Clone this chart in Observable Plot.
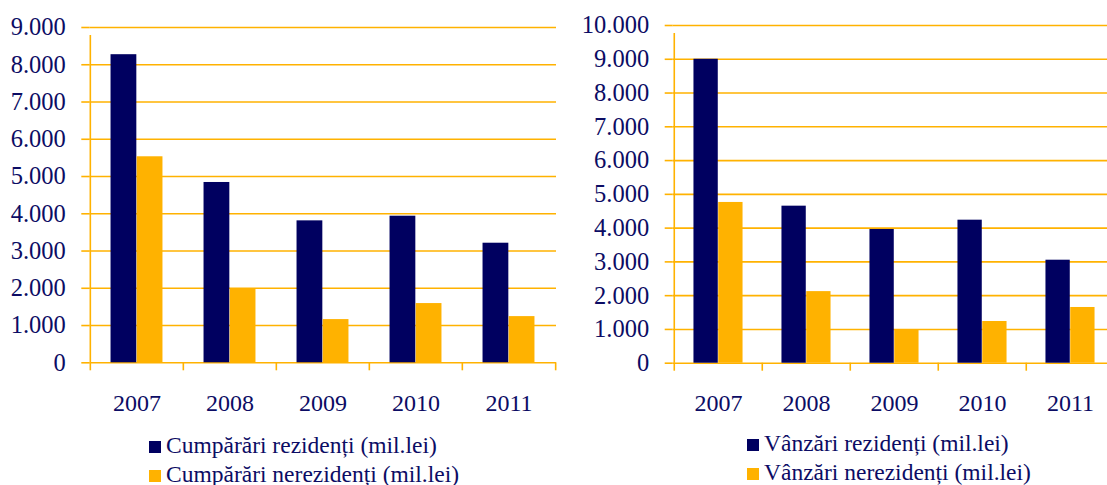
<!DOCTYPE html>
<html><head><meta charset="utf-8">
<script src="https://cdn.jsdelivr.net/npm/d3@7"></script>
<script src="https://cdn.jsdelivr.net/npm/@observablehq/plot@0.6"></script>
<style>
body{margin:0;background:#fff;}
#wrap{position:relative;width:1107px;height:485px;overflow:hidden;font-family:"Liberation Serif",serif;color:#0c0c64;}
.chart{position:absolute;top:0;}
.legend{position:absolute;font-size:23.5px;}
.row{height:29px;line-height:29px;white-space:nowrap;}
.sw{display:inline-block;width:12px;height:12px;margin-right:5px;}
</style></head><body><div id="wrap"></div>
<script>
const years = ["2007", "2008", "2009", "2010", "2011"];
const cumparariRezidenti = [8270, 4840, 3810, 3935, 3210];
const cumparariNerezidenti = [5530, 1990, 1160, 1590, 1240];
const vanzariRezidenti = [9000, 4650, 3960, 4235, 3050];
const vanzariNerezidenti = [4760, 2120, 990, 1235, 1650];
const yTicksLeft = [0, 1000, 2000, 3000, 4000, 5000, 6000, 7000, 8000, 9000];
const yTicksRight = [0, 1000, 2000, 3000, 4000, 5000, 6000, 7000, 8000, 9000, 10000];
const legendLeft = ["Cumpărări rezidenți (mil.lei)", "Cumpărări nerezidenți (mil.lei)"];
const legendRight = ["Vânzări rezidenți (mil.lei)", "Vânzări nerezidenți (mil.lei)"];

const NAVY = "#000060", ORANGE = "#FFB200", TEXT = "#0c0c64";
const fmt = d3.formatLocale({decimal: ",", thousands: ".", grouping: [3], currency: ["", ""]}).format(",d");

function chart({left, width, height, mL, mR, mT, mB, yMax, ticks, s1, s2}) {
  const step = (width - mL - mR) / years.length;
  const pad = step * 0.22, bar = (step - 2 * pad) / 2;
  const rows = years.map((y, i) => ({year: y, a: s1[i], b: s2[i]}));
  const p = Plot.plot({
    width, height, marginLeft: mL, marginRight: mR, marginTop: mT, marginBottom: mB,
    style: {fontFamily: '"Liberation Serif", serif', fontSize: "24px", color: TEXT, background: "transparent", overflow: "visible"},
    x: {type: "band", domain: years, padding: 0, label: null},
    y: {domain: [0, yMax], label: null},
    marks: [
      Plot.gridY({ticks, stroke: ORANGE, strokeOpacity: 1, strokeWidth: 1.6}),
      Plot.axisY({ticks, label: null, tickSize: 8, tickPadding: 16, tickFormat: fmt, stroke: ORANGE, strokeWidth: 1.6, fill: TEXT, fontSize: 24.5}),
      Plot.ruleX([years[0]], {x: d => d, dx: -step / 2, y1: 0, y2: yMax, insetBottom: -8, stroke: ORANGE, strokeWidth: 1.6}),
      Plot.axisX({label: null, tickSize: 8, tickFormat: () => "", dx: -step / 2, stroke: ORANGE, strokeWidth: 1.6}),
      Plot.axisX({label: null, ticks: [years[years.length - 1]], tickSize: 8, tickFormat: () => "", dx: step / 2, stroke: ORANGE, strokeWidth: 1.6}),
      Plot.axisX({label: null, tickSize: 0, tickPadding: 31, fill: TEXT, fontSize: 24}),
      Plot.barY(rows, {x: "year", y: "a", fill: NAVY, insetLeft: pad, insetRight: pad + bar}),
      Plot.barY(rows, {x: "year", y: "b", fill: ORANGE, insetLeft: pad + bar, insetRight: pad})
    ]
  });
  p.classList.add("chart");
  p.style.left = left + "px";
  return p;
}

function legend(labels, left, top) {
  const d = document.createElement("div");
  d.className = "legend";
  d.style.left = left + "px";
  d.style.top = top + "px";
  [NAVY, ORANGE].forEach((c, i) => {
    const r = document.createElement("div");
    r.className = "row";
    const s = document.createElement("span");
    s.className = "sw";
    s.style.background = c;
    r.appendChild(s);
    r.appendChild(document.createTextNode(labels[i]));
    d.appendChild(r);
  });
  return d;
}

const wrap = document.getElementById("wrap");
wrap.appendChild(chart({left: 0, width: 580, height: 420, mL: 89.3, mR: 24, mT: 27, mB: 57.7, yMax: 9000, ticks: yTicksLeft, s1: cumparariRezidenti, s2: cumparariNerezidenti}));
wrap.appendChild(chart({left: 560, width: 560, height: 420, mL: 112.7, mR: 5, mT: 25, mB: 57.3, yMax: 10000, ticks: yTicksRight, s1: vanzariRezidenti, s2: vanzariNerezidenti}));
wrap.appendChild(legend(legendLeft, 149, 431));
wrap.appendChild(legend(legendRight, 747, 429));
</script></body></html>
